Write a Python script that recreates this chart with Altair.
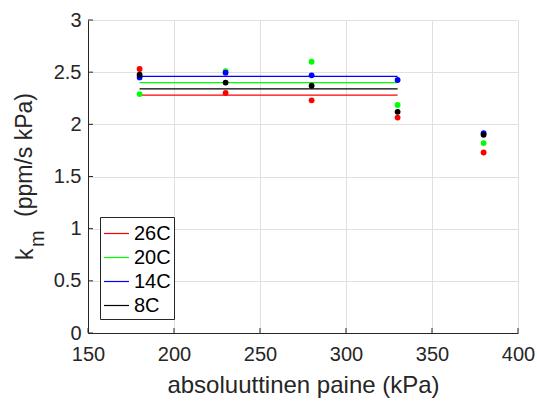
import altair as alt
import pandas as pd

# ---- data ----
pressure = [180, 230, 280, 330, 380]
series = ["26C", "20C", "14C", "8C"]
colors = ["#ff0000", "#00ff00", "#0000ff", "#000000"]
k_26C = [2.53, 2.30, 2.23, 2.065, 1.73]
k_20C = [2.29, 2.51, 2.60, 2.185, 1.82]
k_14C = [2.45, 2.495, 2.47, 2.425, 1.915]
k_8C = [2.475, 2.40, 2.37, 2.12, 1.90]
mean_level = [2.28, 2.40, 2.46, 2.34]
mean_start = [180, 180, 180, 180]
mean_end = [330, 330, 330, 330]
x_ticks = [150, 200, 250, 300, 350, 400]
y_ticks = [0, 0.5, 1, 1.5, 2, 2.5, 3]

FONT = "Liberation Sans"
AX = "#262626"

pts_rows = []
for s, vals in zip(series, [k_26C, k_20C, k_14C, k_8C]):
    for p, v in zip(pressure, vals):
        pts_rows.append({"series": s, "p": p, "k": v})
pts_df = pd.DataFrame(pts_rows)
lines_df = pd.DataFrame({"series": series, "x0": mean_start, "x1": mean_end, "level": mean_level})
xt_df = pd.DataFrame({"t": x_ticks})
yt_df = pd.DataFrame({"t": y_ticks})

xs = alt.Scale(domain=[150, 400], nice=False, zero=False)
ys = alt.Scale(domain=[0, 3], nice=False, zero=False)
cscale = alt.Scale(domain=series, range=colors)

x_axis = alt.Axis(values=x_ticks, title="absoluuttinen paine (kPa)", ticks=False,
                  labelPadding=11, titlePadding=9, format="d", labelFlush=False,
                  titleFontSize=24)
y_axis = alt.Axis(values=y_ticks, title=None, ticks=False, labelPadding=7, format=".1~f",
                  labelFlush=False)

lines = alt.Chart(lines_df).mark_rule(strokeWidth=1.2).encode(
    x=alt.X("x0:Q", scale=xs, axis=x_axis),
    x2="x1:Q",
    y=alt.Y("level:Q", scale=ys, axis=y_axis),
    color=alt.Color("series:N", scale=cscale, sort=series,
                    legend=alt.Legend(title=None, orient="none", legendX=12, legendY=197,
                                      symbolType="stroke", symbolSize=625,
                                      symbolStrokeWidth=1.2, labelFontSize=20,
                                      labelFont=FONT, labelColor="#000000",
                                      strokeColor=AX, fillColor="#ffffff",
                                      padding=3, rowPadding=0, labelOffset=4)),
)

points = alt.Chart(pts_df).mark_circle(size=34, opacity=1).encode(
    x=alt.X("p:Q", scale=xs),
    y=alt.Y("k:Q", scale=ys),
    color=alt.Color("series:N", scale=cscale, legend=None),
    order=alt.Order("idx:Q"),
).transform_calculate(
    idx="indexof(['26C','20C','14C','8C'], datum.series)"
)

xticks = alt.Chart(xt_df).mark_rule(color=AX, strokeWidth=1).encode(
    x=alt.X("t:Q", scale=xs), y=alt.value(313), y2=alt.value(308))
yticks = alt.Chart(yt_df).mark_rule(color=AX, strokeWidth=1).encode(
    y=alt.Y("t:Q", scale=ys), x=alt.value(0), x2=alt.value(5))

def ytitle(txt, size, xpix, ypix):
    return alt.Chart(pd.DataFrame({"t": [txt]})).mark_text(
        angle=270, align="left", baseline="alphabetic", fontSize=size,
        font=FONT, color=AX).encode(
        text="t:N", x=alt.value(xpix), y=alt.value(ypix))

t_k = ytitle("k", 23, -55, 240)
t_m = ytitle("m", 20, -44, 227)
t_rest = ytitle("(ppm/s kPa)", 23, -56, 197)

chart = alt.layer(lines, points, xticks, yticks, t_k, t_m, t_rest).properties(
    width=430, height=313,
    padding={"left": 88, "top": 20, "right": 19, "bottom": 68},
    autosize="none",
    background="#ffffff",
).configure_view(strokeWidth=0).configure_axis(
    domainColor=AX, domainWidth=1, gridColor="#e0e0e0", gridWidth=1,
    labelFont=FONT, labelFontSize=20, labelColor=AX,
    titleFont=FONT, titleFontSize=22, titleColor=AX, titleFontWeight="normal",
)

chart.save("out.html", embed_options={"renderer": "svg", "actions": False})
